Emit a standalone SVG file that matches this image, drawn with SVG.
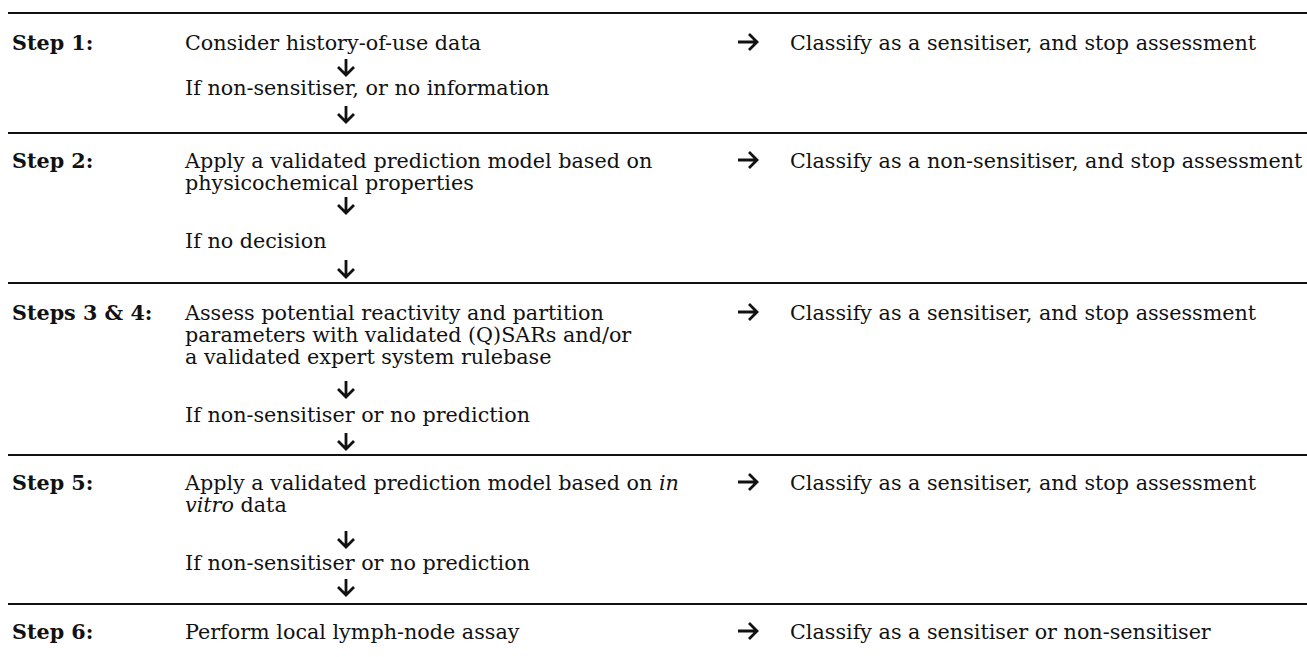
<svg xmlns="http://www.w3.org/2000/svg" width="1307" height="657" viewBox="0 0 1307 657">
<style>
text{font-family:"DejaVu Serif","Liberation Serif",serif;font-size:20.7px;fill:#111}
.b{font-weight:bold}
.i{font-style:italic}
.rule{stroke:#111;stroke-width:2}
.arr{fill:none;stroke:#111;stroke-width:2.8;stroke-linejoin:miter}
</style>
<rect width="1307" height="657" fill="#fff"/>
<g id="rules">
<line class="rule" x1="8" y1="13" x2="1307" y2="13"/>
<line class="rule" x1="8" y1="133" x2="1307" y2="133"/>
<line class="rule" x1="8" y1="283" x2="1307" y2="283"/>
<line class="rule" x1="8" y1="455" x2="1307" y2="455"/>
<line class="rule" x1="8" y1="604" x2="1307" y2="604"/>
</g>
<g id="step1">
<text class="b" x="12" y="50">Step 1:</text>
<text x="185" y="50">Consider history-of-use data</text>
<text x="185" y="95">If non-sensitiser, or no information</text>
<text x="790" y="50">Classify as a sensitiser, and stop assessment</text>
</g>
<g id="step2">
<text class="b" x="12" y="168">Step 2:</text>
<text x="185" y="168">Apply a validated prediction model based on</text>
<text x="185" y="190">physicochemical properties</text>
<text x="185" y="248">If no decision</text>
<text x="790" y="168">Classify as a non-sensitiser, and stop assessment</text>
</g>
<g id="step34">
<text class="b" x="12" y="320">Steps 3 &amp; 4:</text>
<text x="185" y="320">Assess potential reactivity and partition</text>
<text x="185" y="342">parameters with validated (Q)SARs and/or</text>
<text x="185" y="364">a validated expert system rulebase</text>
<text x="185" y="422">If non-sensitiser or no prediction</text>
<text x="790" y="320">Classify as a sensitiser, and stop assessment</text>
</g>
<g id="step5">
<text class="b" x="12" y="490">Step 5:</text>
<text x="185" y="490">Apply a validated prediction model based on <tspan class="i">in</tspan></text>
<text x="185" y="512"><tspan class="i">vitro</tspan> data</text>
<text x="185" y="570">If non-sensitiser or no prediction</text>
<text x="790" y="490">Classify as a sensitiser, and stop assessment</text>
</g>
<g id="step6">
<text class="b" x="12" y="639">Step 6:</text>
<text x="185" y="639">Perform local lymph-node assay</text>
<text x="790" y="639">Classify as a sensitiser or non-sensitiser</text>
</g>
<g id="connectors">
<path class="arr" d="M346 59V75M338 67L346 75L354 67"/>
<path class="arr" d="M346 106V122M338 114L346 122L354 114"/>
<path class="arr" d="M346 197V213M338 205L346 213L354 205"/>
<path class="arr" d="M346 260V277M338 269L346 277L354 269"/>
<path class="arr" d="M346 381V397M338 389L346 397L354 389"/>
<path class="arr" d="M346 433V449M338 441L346 449L354 441"/>
<path class="arr" d="M346 531V547M338 539L346 547L354 539"/>
<path class="arr" d="M346 579V595M338 587L346 595L354 587"/>
<path class="arr" d="M738 42H757M749 34L757 42L749 50"/>
<path class="arr" d="M738 160H757M749 152L757 160L749 168"/>
<path class="arr" d="M738 312H757M749 304L757 312L749 320"/>
<path class="arr" d="M738 482H757M749 474L757 482L749 490"/>
<path class="arr" d="M738 631H757M749 623L757 631L749 639"/>
</g>
</svg>
